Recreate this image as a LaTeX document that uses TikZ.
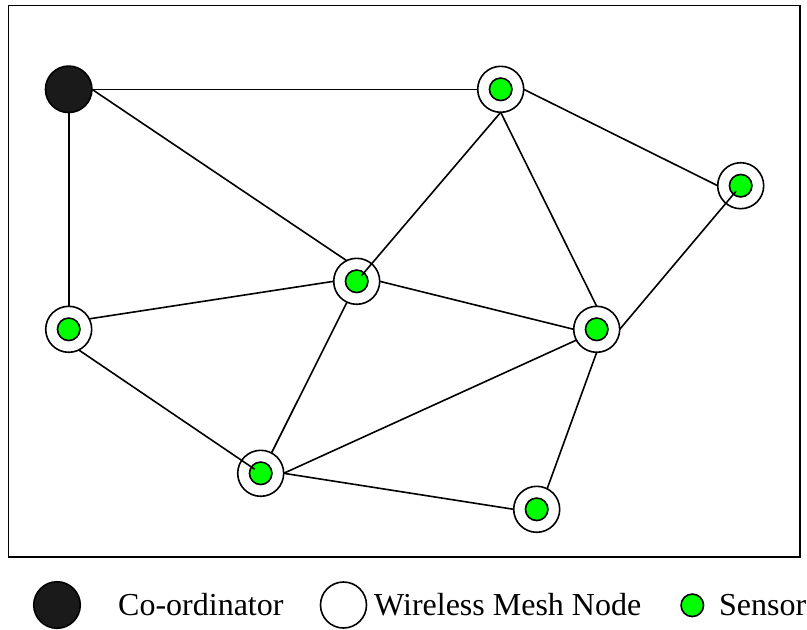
\documentclass[tikz,border=0pt]{standalone}
\usepackage{fontspec}
\setmainfont{Liberation Serif}
\definecolor{sensorgreen}{RGB}{0,255,0}
\definecolor{coordfill}{RGB}{26,26,26}
\begin{document}
\begin{tikzpicture}[x=1pt,y=-1pt,
  frame/.style={draw, line width=1.8pt},
  link/.style={line width=1.6pt},
  meshnode/.style={circle, draw, line width=1.6pt, fill=white,
    minimum size=46pt, inner sep=0pt, outer sep=0pt},
  sensornode/.style={circle, draw, line width=1.6pt, fill=sensorgreen,
    minimum size=22.5pt, inner sep=0pt, outer sep=0pt},
  coordnode/.style={circle, draw, line width=1.6pt, fill=coordfill,
    minimum size=46.5pt, inner sep=0pt, outer sep=0pt},
  legendtext/.style={anchor=base west, inner sep=0pt,
    font=\fontsize{32}{38}\selectfont}]
\useasboundingbox (0,0) rectangle (807,630);

% network area
\draw[frame] (8.5,5.5) rectangle (800,557);

% co-ordinator and mesh nodes, each mesh node carrying a sensor
\node[coordnode] (c) at (68.7,89.3) {};
\foreach \n/\p in {m1/{(500.7,89.3)}, m2/{(740.7,185.7)}, m3/{(356.7,281.3)},
                   m4/{(68.7,329.3)}, m5/{(596.7,329.3)}, m6/{(260.7,473.3)},
                   m7/{(536.7,509.3)}}{
  \node[meshnode] (\n) at \p {};
  \node[sensornode] (\n s) at (\n.center) {};
}

% links
\draw[link] (c.east) -- (m1.west);
\draw[link] (c.east) -- (m3.116);
\draw[link] (c.south) -- (m4.north);
\draw[link] (m1.east) -- (m2.west);
\draw[link, shorten >=-4pt] (m1.south) -- (m3s);
\draw[link] (m1.south) -- (m5.north);
\draw[link, shorten >=-4pt] (m5.east) -- (m2s);
\draw[link] (m4.27) -- (m3.west);
\draw[link] (m3.east) -- (m5.west);
\draw[link] (m3.-115) -- (m6.62);
\draw[link, shorten >=-4pt] (m4.-64) -- (m6s);
\draw[link] (m5.208) -- (m6.east);
\draw[link] (m5.south) -- (m7.63);
\draw[link] (m6.east) -- (m7.west);

% legend
\node[coordnode] (lc) at (57,605) {};
\node[legendtext] (lct) at (118,615) {Co-ordinator};
\node[meshnode] (lm) at (343.5,605) {};
\node[legendtext] (lmt) at (374,615) {Wireless Mesh Node};
\node[sensornode] (ls) at (692.3,605.3) {};
\node[legendtext] (lst) at (719,615) {Sensor};
\end{tikzpicture}
\end{document}
